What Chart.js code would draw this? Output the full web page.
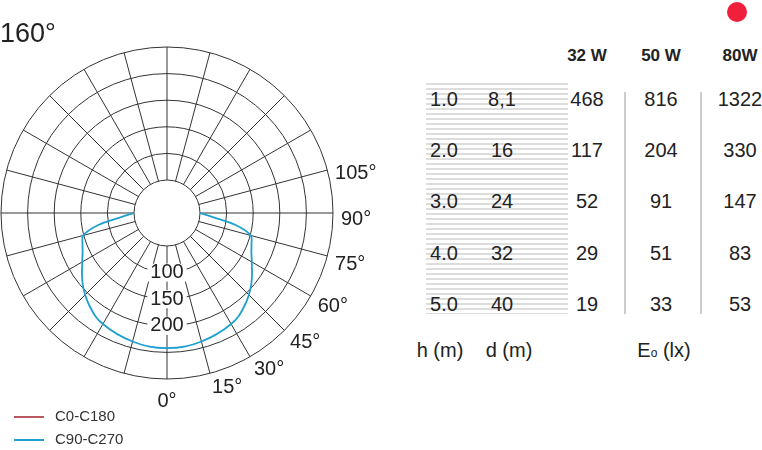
<!DOCTYPE html>
<html><head><meta charset="utf-8">
<script src="https://cdn.jsdelivr.net/npm/chart.js@4"></script>
<style>
body{margin:0;width:762px;height:450px;background:#fff;font-family:"Liberation Sans",Arial,sans-serif;color:#222;position:relative;overflow:hidden}
#wrap{position:absolute;left:0;top:0;width:400px;height:450px}
.t{position:absolute;font-size:20px;transform:translate(-50%,-50%);white-space:nowrap}
.b{font-weight:bold;font-size:17px}
.stripe{position:absolute;left:426px;top:80px;width:142px;height:234px;background:repeating-linear-gradient(#fff 0,#fff 3px,#ddd 3px,#ddd 5px)}
.vl{position:absolute;width:2px;background:#ccc;top:92px;height:222px}
</style></head><body>
<div id="wrap"><canvas id="c" width="400" height="450" style="width:400px;height:450px"></canvas></div>
<div class="stripe"></div>
<div class="vl" style="left:624px"></div>
<div class="vl" style="left:700px"></div>
<div style="position:absolute;left:727px;top:2px;width:20px;height:20px;border-radius:50%;background:#f0203c"></div>
<div id="tbl"></div>
<script>
const angles=[0,15,30,40,50,60,65,70,75,80,85,90];
const c90=[242,238,229,215,195,172,163,157,151,120,73,50];
const c0=[];
const hVals=["1.0","2.0","3.0","4.0","5.0"];
const dVals=["8,1","16","24","32","40"];
const w32=[468,117,52,29,19];
const w50=[816,204,91,51,33];
const w80=[1322,330,147,83,53];
const powers=["32 W","50 W","80W"];
const ringVals=[50,100,150,200,250,300];
const angleLabels=["0°","15°","30°","45°","60°","75°","90°","105°"];

const R=v=>6.4+0.532*v;
function pts(vals){const p=[];
  for(let i=angles.length-1;i>=0;i--){const a=-angles[i]*Math.PI/180;p.push({x:R(vals[i])*Math.sin(a),y:-R(vals[i])*Math.cos(a)});}
  for(let i=1;i<angles.length;i++){const a=angles[i]*Math.PI/180;p.push({x:R(vals[i])*Math.sin(a),y:-R(vals[i])*Math.cos(a)});}
  return p;}

const grid={id:'grid',beforeDatasetsDraw(ch){
  const x=ch.scales.x,y=ch.scales.y,g=ch.ctx;
  const cx=x.getPixelForValue(0),cy=y.getPixelForValue(0),k=x.getPixelForValue(1)-cx;
  g.save();g.strokeStyle='#333';g.lineWidth=1;
  const rin=R(50)*k,rout=R(300)*k;
  for(let a=0;a<360;a+=15){const t=a*Math.PI/180;g.beginPath();g.moveTo(cx+rin*Math.sin(t),cy+rin*Math.cos(t));g.lineTo(cx+rout*Math.sin(t),cy+rout*Math.cos(t));g.stroke();}
  ringVals.forEach(v=>{g.beginPath();g.arc(cx,cy,R(v)*k,0,Math.PI*2);g.stroke();});
  g.restore();},
 afterDatasetsDraw(ch){
  const x=ch.scales.x,y=ch.scales.y,g=ch.ctx;
  const cx=x.getPixelForValue(0),cy=y.getPixelForValue(0),k=x.getPixelForValue(1)-cx;
  g.save();g.font='20px "Liberation Sans"';g.textAlign='center';g.textBaseline='middle';
  [100,150,200].forEach(v=>{const yy=cy+R(v)*k;const w=g.measureText(String(v)).width;g.fillStyle='#fff';g.fillRect(cx-w/2-3,yy-9,w+6,18);g.fillStyle='#222';g.fillText(String(v),cx,yy);});
  const rl=R(300)*k+8;
  angleLabels.forEach((s,i)=>{const t=i*15*Math.PI/180;g.textAlign='left';
    let px=cx+rl*Math.sin(t),py=cy+rl*Math.cos(t)+6;
    if(i===0){g.textAlign='center';py+=8;}
    g.fillStyle='#222';g.fillText(s,px,py);});
  g.font='27px "Liberation Sans"';g.textAlign='left';g.fillText('160°',0,35);
  g.font='15px "Liberation Sans"';
  g.strokeStyle='#a0202c';g.lineWidth=1.5;g.beginPath();g.moveTo(14,417);g.lineTo(44,417);g.stroke();
  g.strokeStyle='#1ea0d0';g.lineWidth=2;g.beginPath();g.moveTo(14,440);g.lineTo(44,440);g.stroke();
  g.fillStyle='#333';g.fillText('C0-C180',55,417);g.fillText('C90-C270',55,440);
  g.restore();}};

new Chart(document.getElementById('c'),{type:'scatter',
 data:{datasets:[{label:'C0-C180',data:pts(c0.length?c0:c90),showLine:false,pointRadius:0,borderColor:'rgba(0,0,0,0)'},
   {label:'C90-C270',data:pts(c90),showLine:true,tension:0.4,borderColor:'#1ea0d0',borderWidth:1.8,pointRadius:0}]},
 options:{responsive:false,animation:false,layout:{padding:0},
  plugins:{legend:{display:false},tooltip:{enabled:false}},
  scales:{x:{display:false,min:-167,max:233},y:{display:false,min:-237,max:213}}},
 plugins:[grid]});

const tb=document.getElementById('tbl');let h='';
const cols=[587,661,740];
powers.forEach((p,i)=>h+=`<div class="t b" style="left:${cols[i]}px;top:56px">${p}</div>`);
const rows=[99,150,201,253,304];
rows.forEach((ry,i)=>{
 h+=`<div class="t" style="left:444px;top:${ry}px">${hVals[i]}</div>`;
 h+=`<div class="t" style="left:502px;top:${ry}px">${dVals[i]}</div>`;
 [w32,w50,w80].forEach((a,j)=>h+=`<div class="t" style="left:${cols[j]}px;top:${ry}px">${a[i]}</div>`);});
h+=`<div class="t" style="left:440px;top:350px">h (m)</div><div class="t" style="left:509px;top:350px">d (m)</div><div class="t" style="left:664px;top:350px">E<span style="font-size:12px">o</span> (lx)</div>`;
tb.innerHTML=h;
</script>
</body></html>
